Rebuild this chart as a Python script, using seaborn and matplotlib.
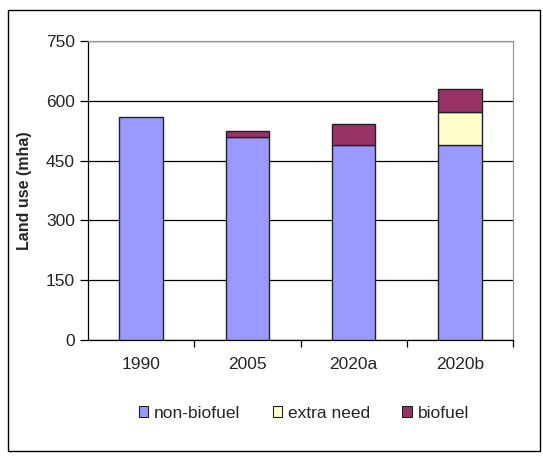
import matplotlib.pyplot as plt
import seaborn as sns
import numpy as np
from matplotlib.patches import Rectangle, Patch

categories = ['1990', '2005', '2020a', '2020b']
non_biofuel = [560, 510, 488, 488]
extra_need = [0, 0, 0, 84]
biofuel = [0, 15, 55, 58]
y_ticks = [0, 150, 300, 450, 600, 750]

sns.set_style('white')
plt.rcParams['font.family'] = ['Liberation Sans', 'DejaVu Sans']

fig = plt.figure(figsize=(5.43, 4.59), dpi=100)
ax = fig.add_axes([88 / 543, 1 - 340 / 459, (513 - 88) / 543, (340 - 41) / 459])

colors = {'non-biofuel': '#9999ff', 'extra need': '#ffffcc', 'biofuel': '#993366'}
base = np.zeros(len(categories))
for name, vals in [('non-biofuel', non_biofuel), ('extra need', extra_need), ('biofuel', biofuel)]:
    vals = np.array(vals, dtype=float)
    sns.barplot(x=categories, y=vals, bottom=base, color=colors[name], width=0.41,
                edgecolor='#222222', linewidth=1.0, ax=ax, zorder=3, saturation=1)
    base = base + vals

# drop empty segments so they don't draw a stray outline
for p in list(ax.patches):
    if p.get_height() == 0:
        p.remove()

ax.set_ylim(0, 750)
ax.set_xlim(-0.5, 3.5)
ax.set_yticks(y_ticks)
ax.yaxis.grid(True, color='black', linewidth=0.9, zorder=0)
ax.set_axisbelow(True)

ax.spines['left'].set_color('black')
ax.spines['bottom'].set_color('black')
ax.spines['top'].set_color('#999999')
ax.spines['right'].set_color('#999999')
for s in ax.spines.values():
    s.set_linewidth(0.9)

ax.tick_params(axis='y', direction='out', length=5.5, width=0.9, color='black', labelsize=12.5, left=True, pad=4)
ax.set_xticks(range(len(categories)))
ax.set_xticklabels(categories)
ax.tick_params(axis='x', length=0, labelsize=12.5, pad=12)
ax.set_xticks([0.5, 1.5, 2.5, 3.5], minor=True)
ax.tick_params(axis='x', which='minor', direction='out', length=5, width=0.9, color='black', bottom=True)

ax.set_ylabel('Land use (mha)', fontsize=11.5, fontweight='bold', labelpad=10)

handles = [Patch(facecolor=colors[k], edgecolor='#222222', linewidth=0.8, label=k) for k in colors]
fig.legend(handles=handles, loc='center', bbox_to_anchor=(304 / 543, 1 - 413 / 459), ncol=3,
           frameon=False, fontsize=12.5, handlelength=0.55, handleheight=0.55, handletextpad=0.35,
           columnspacing=1.85)

fig.patches.append(Rectangle((8 / 543, 1 - 451 / 459), 532 / 543, 441 / 459, transform=fig.transFigure,
                             fill=False, edgecolor='black', linewidth=1.0))

fig.savefig('out.png', dpi=100)
